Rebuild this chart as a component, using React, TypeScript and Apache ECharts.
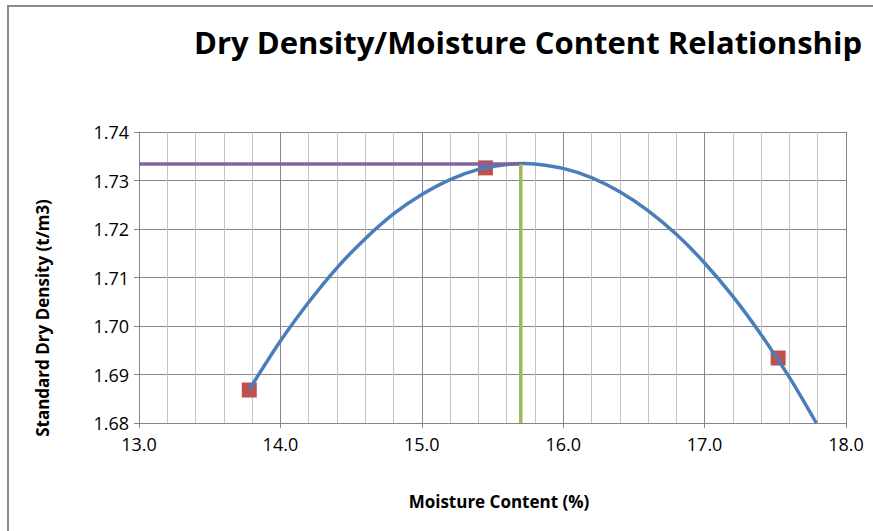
import React, { useEffect, useRef } from "react";
import * as echarts from "echarts";

const titleText = "Dry Density/Moisture Content Relationship";
const xAxisName = "Moisture Content (%)";
const yAxisName = "Standard Dry Density (t/m3)";

// test results (moisture %, dry density t/m3)
const testMoisture = [13.78, 15.45, 17.52];
const testDensity = [1.6868, 1.7326, 1.6934];

// fitted curve
const curveMoisture = [13.78, 14.0, 14.2, 14.4, 14.6, 14.8, 15.0, 15.2, 15.4, 15.6, 15.72, 15.8, 16.0, 16.2, 16.4, 16.6, 16.8, 17.0, 17.2, 17.4, 17.6, 17.79];
const curveDensity = [1.6869, 1.6969, 1.7049, 1.712, 1.718, 1.7231, 1.7271, 1.7302, 1.7323, 1.7333, 1.7335, 1.7334, 1.7325, 1.7306, 1.7277, 1.7238, 1.7189, 1.713, 1.7061, 1.6982, 1.6894, 1.68];

// maximum dry density / optimum moisture content
const maxDryDensity = 1.7334;
const optimumMoisture = 15.71;
const xMin = 13;
const xMax = 18;
const yMin = 1.68;
const yMax = 1.74;

export default function App() {
  const ref = useRef<HTMLDivElement>(null);
  useEffect(() => {
    if (!ref.current) return;
    const chart = echarts.init(ref.current, undefined, { renderer: "svg" });
    const font = "Open Sans, Noto Sans, sans-serif";
    chart.setOption({
      animation: false,
      backgroundColor: "#ffffff",
      textStyle: { fontFamily: font },
      graphic: [
        {
          type: "rect",
          shape: { x: 8, y: 6, width: 900, height: 560 },
          style: { fill: "none", stroke: "#8c8c8c", lineWidth: 2 },
          z: -1,
        },
        {
          type: "text",
          x: 862,
          y: 42,
          style: {
            text: titleText,
            fontFamily: font,
            fontWeight: "bold",
            fontSize: 31,
            fill: "#000",
            align: "right",
            verticalAlign: "middle",
          },
        },
        {
          type: "text",
          x: 42,
          y: 318,
          rotation: Math.PI / 2,
          style: {
            text: yAxisName,
            fontFamily: font,
            fontWeight: "bold",
            fontSize: 17,
            fill: "#000",
            align: "center",
            verticalAlign: "middle",
          },
        },
        {
          type: "text",
          x: 499,
          y: 501,
          style: {
            text: xAxisName,
            fontFamily: font,
            fontWeight: "bold",
            fontSize: 17,
            fill: "#000",
            align: "center",
            verticalAlign: "middle",
          },
        },
      ],
      grid: { left: 139, right: 27, top: 132, bottom: 108, containLabel: false },
      xAxis: {
        type: "value",
        min: xMin,
        max: xMax,
        interval: 1,
        axisLine: { show: true, lineStyle: { color: "#868686", width: 1 } },
        axisTick: { show: true, length: 5, lineStyle: { color: "#868686" } },
        axisLabel: {
          formatter: (v: number) => v.toFixed(1),
          fontSize: 18,
          color: "#000",
          margin: 12,
        },
        splitLine: { show: true, lineStyle: { color: "#868686", width: 1 } },
        minorTick: { show: false, splitNumber: 5 },
        minorSplitLine: { show: true, lineStyle: { color: "#c4c4c4", width: 1 } },
      },
      yAxis: {
        type: "value",
        min: yMin,
        max: yMax,
        interval: 0.01,
        axisLine: { show: true, lineStyle: { color: "#868686", width: 1 } },
        axisTick: { show: true, length: 5, lineStyle: { color: "#868686" } },
        axisLabel: {
          formatter: (v: number) => v.toFixed(2),
          fontSize: 18,
          color: "#000",
          margin: 10,
        },
        splitLine: { show: true, lineStyle: { color: "#868686", width: 1 } },
      },
      series: [
        {
          type: "scatter",
          data: testMoisture.map((x, i) => [x, testDensity[i]]),
          symbol: "rect",
          symbolSize: 15,
          itemStyle: { color: "#c0504d", opacity: 1 },
          z: 2,
        },
        {
          type: "line",
          data: curveMoisture.map((x, i) => [x, curveDensity[i]]),
          smooth: 0.3,
          showSymbol: false,
          lineStyle: { color: "#4a7ebb", width: 3.5 },
          z: 3,
        },
        {
          type: "line",
          data: [[xMin, maxDryDensity], [optimumMoisture, maxDryDensity]],
          showSymbol: false,
          lineStyle: { color: "#8064a2", width: 3.5 },
          z: 4,
        },
        {
          type: "line",
          data: [[optimumMoisture - 0.01, yMin], [optimumMoisture - 0.01, maxDryDensity]],
          showSymbol: false,
          lineStyle: { color: "#9bbb59", width: 3.5 },
          z: 4,
        },
      ],
    });
    return () => chart.dispose();
  }, []);
  return <div ref={ref} style={{ width: 873, height: 531, position: "absolute", left: 0, top: 0 }} />;
}
